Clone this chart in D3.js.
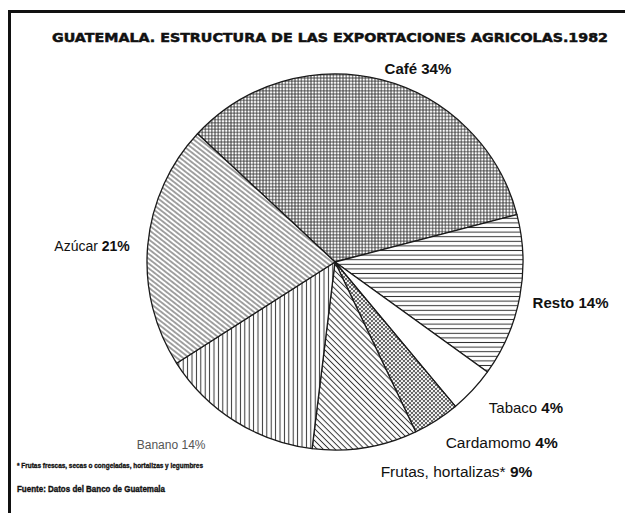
<!DOCTYPE html>
<html>
<head>
<meta charset="utf-8">
<script src="https://cdn.jsdelivr.net/npm/d3@7"></script>
<style>
  body { margin: 0; background: #fff; }
  svg { display: block; }
</style>
</head>
<body>
<script>
// chart data
const categories = ['Café', 'Resto', 'Tabaco', 'Cardamomo', 'Frutas, hortalizas*', 'Banano', 'Azúcar'];
const shares     = [34, 14, 4, 4, 9, 14, 21];
const patterns   = ['cross', 'horiz', 'blank', 'dots', 'diagA', 'vert', 'diagB'];

// label look + small hand nudges (the original placed them by hand)
const nameBold   = [true, true, false, false, false, false, false];
const labelSize  = [15, 15, 15, 15.5, 15.5, 12, 14];
const labelNudge = [[1, -1], [3, 4], [9, 11], [4, 14], [14, 14], [-24, 15], [-8, 2]];

const W = 625, H = 513;
const CX = 335, CY = 262, R = 188;
const START = -47 * Math.PI / 180;

const svg = d3.select('body').append('svg')
  .attr('width', W)
  .attr('height', H)
  .style('font-family', '"Liberation Sans", Arial, sans-serif');

// hatch patterns
const defs = svg.append('defs');
const ink = '#333';

function linePattern(id, size, angle, sw) {
  const p = defs.append('pattern')
    .attr('id', id)
    .attr('patternUnits', 'userSpaceOnUse')
    .attr('width', size).attr('height', size)
    .attr('patternTransform', 'rotate(' + angle + ')');
  p.append('rect').attr('width', size).attr('height', size).attr('fill', '#fff');
  p.append('line')
    .attr('x1', 0).attr('x2', size)
    .attr('y1', size / 2).attr('y2', size / 2)
    .attr('stroke', ink).attr('stroke-width', sw);
}
linePattern('horiz', 4.6, 0, 1);
linePattern('vert', 4.4, 90, 1);
linePattern('diagA', 4.2, 45, 1);
linePattern('diagB', 3.8, 38, 0.9);

// fine grid for Café
const cross = defs.append('pattern')
  .attr('id', 'cross')
  .attr('patternUnits', 'userSpaceOnUse')
  .attr('width', 3.2).attr('height', 3.2);
cross.append('rect').attr('width', 3.2).attr('height', 3.2).attr('fill', '#fff');
cross.append('path')
  .attr('d', 'M0,1.6H3.2M1.6,0V3.2')
  .attr('stroke', ink).attr('stroke-width', 0.9);

// dotted mesh for Cardamomo
const dots = defs.append('pattern')
  .attr('id', 'dots')
  .attr('patternUnits', 'userSpaceOnUse')
  .attr('width', 4).attr('height', 4);
dots.append('rect').attr('width', 4).attr('height', 4).attr('fill', '#666');
dots.append('circle').attr('cx', 1).attr('cy', 1).attr('r', 1.1).attr('fill', '#fff');
dots.append('circle').attr('cx', 3).attr('cy', 3).attr('r', 1.1).attr('fill', '#fff');

// frame (top + left rule)
svg.append('path')
  .attr('d', 'M9.5,' + H + 'V11.5H' + W)
  .attr('fill', 'none')
  .attr('stroke', '#111')
  .attr('stroke-width', 3);

// title
svg.append('text')
  .attr('x', 52).attr('y', 42)
  .attr('textLength', 556)
  .attr('lengthAdjust', 'spacingAndGlyphs')
  .style('font-family', '"DejaVu Sans", sans-serif')
  .style('font-weight', 'bold')
  .style('font-size', '12.5px')
  .attr('fill', '#111')
  .attr('stroke', '#111')
  .attr('stroke-width', 0.5)
  .text('GUATEMALA. ESTRUCTURA DE LAS EXPORTACIONES AGRICOLAS.1982');

// pie
const rows = categories.map((c, i) => ({ name: c, value: shares[i], i: i }));

const pie = d3.pie()
  .sort(null)
  .value(d => d.value)
  .startAngle(START)
  .endAngle(START + 2 * Math.PI);

const arc = d3.arc().innerRadius(0).outerRadius(R);
const labelArc = d3.arc().innerRadius(R + 10).outerRadius(R + 10);

const g = svg.append('g').attr('transform', 'translate(' + CX + ',' + CY + ')');
const arcs = pie(rows);

g.selectAll('path.slice')
  .data(arcs)
  .join('path')
  .attr('class', 'slice')
  .attr('d', arc)
  .attr('fill', d => patterns[d.data.i] === 'blank' ? '#fff' : 'url(#' + patterns[d.data.i] + ')')
  .attr('stroke', '#1a1a1a')
  .attr('stroke-width', 1.3)
  .attr('stroke-linejoin', 'round');

// labels
g.selectAll('text.lbl')
  .data(arcs)
  .join('text')
  .attr('class', 'lbl')
  .each(function (d) {
    const i = d.data.i;
    const mid = (d.startAngle + d.endAngle) / 2;
    const c = labelArc.centroid(d);
    const t = d3.select(this)
      .attr('x', c[0] + labelNudge[i][0])
      .attr('y', c[1] + labelNudge[i][1])
      .attr('dy', '0.35em')
      .attr('text-anchor', Math.sin(mid) >= 0 ? 'start' : 'end')
      .style('font-size', labelSize[i] + 'px')
      .attr('fill', i === 5 ? '#555' : '#111');
    t.append('tspan')
      .style('font-weight', nameBold[i] ? 'bold' : 'normal')
      .text(d.data.name + ' ');
    t.append('tspan')
      .style('font-weight', i === 5 ? 'normal' : 'bold')
      .text(d.data.value + '%');
  });

// notes
svg.append('text')
  .attr('x', 17).attr('y', 468)
  .attr('textLength', 186)
  .attr('lengthAdjust', 'spacingAndGlyphs')
  .style('font-weight', 'bold')
  .style('font-size', '6.5px')
  .attr('fill', '#111')
  .attr('stroke', '#111')
  .attr('stroke-width', 0.3)
  .text('* Frutas frescas, secas o congeladas, hortalizas y legumbres');

svg.append('text')
  .attr('x', 17).attr('y', 492)
  .attr('textLength', 148)
  .attr('lengthAdjust', 'spacingAndGlyphs')
  .style('font-weight', 'bold')
  .style('font-size', '9.5px')
  .attr('fill', '#111')
  .attr('stroke', '#111')
  .attr('stroke-width', 0.4)
  .text('Fuente: Datos del Banco de Guatemala');
</script>
</body>
</html>
